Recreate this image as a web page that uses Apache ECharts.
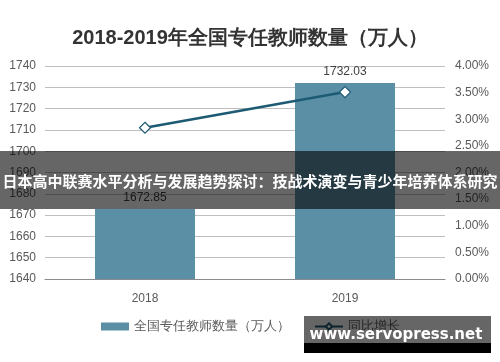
<!DOCTYPE html>
<html><head><meta charset="utf-8">
<script src="https://cdn.jsdelivr.net/npm/echarts@6/dist/echarts.min.js"></script>
<style>html,body{margin:0;padding:0;background:#fff}#c{width:500px;height:362px}</style>
</head><body><div id="c"></div>
<script>
const categories = ['2018', '2019'];
const teacherCounts = [1672.85, 1732.03];
const growthRates = [2.84, 3.51];
const leftTicks = {min: 1640, max: 1740, interval: 10};
const rightTicks = {min: 0, max: 4, interval: 0.5};
const titleText = '2018-2019年全国专任教师数量（万人）';
const barName = '全国专任教师数量（万人）';
const lineName = '同比增长';
const bannerText = '日本高中联赛水平分析与发展趋势探讨：技战术演变与青少年培养体系研究';
const watermarkText = 'www.servopress.net';

const font = 'Liberation Sans, Arial, sans-serif';
const chart = echarts.init(document.getElementById('c'), null, {renderer: 'canvas'});
chart.setOption({
  animation: false,
  backgroundColor: '#fff',
  title: {text: titleText, left: 'center', top: 23,
    textStyle: {fontSize: 20, fontWeight: 'bold', color: '#333', fontFamily: font}},
  grid: {left: 45, right: 55, top: 66, bottom: 83},
  legend: {bottom: 24, left: 96, itemGap: 24, itemWidth: 28, itemHeight: 8,
    textStyle: {fontSize: 13, color: '#595959', fontFamily: font},
    data: [{name: barName, icon: 'rect'}, {name: lineName}]},
  xAxis: {type: 'category', data: categories,
    axisLine: {lineStyle: {color: '#8c8c8c'}}, axisTick: {show: false},
    axisLabel: {fontSize: 12, color: '#595959', margin: 14, fontFamily: font}},
  yAxis: [
    {type: 'value', min: leftTicks.min, max: leftTicks.max, interval: leftTicks.interval,
      axisLine: {show: false}, axisTick: {show: false},
      axisLabel: {fontSize: 12, color: '#595959', margin: 9, fontFamily: font,
        formatter: v => String(v)},
      splitLine: {lineStyle: {color: '#bfbfbf', width: 1}}},
    {type: 'value', min: rightTicks.min, max: rightTicks.max, interval: rightTicks.interval,
      axisLine: {show: false}, axisTick: {show: false},
      axisLabel: {fontSize: 12, color: '#595959', margin: 10, fontFamily: font,
        formatter: v => v.toFixed(2) + '%'},
      splitLine: {show: false}}
  ],
  series: [
    {name: barName, type: 'bar', data: teacherCounts, barWidth: '50%', yAxisIndex: 0,
      itemStyle: {color: '#5b8fa6'},
      label: {show: true, position: 'top', fontSize: 12, color: '#404040', fontFamily: font,
        formatter: p => p.value.toFixed(2)}},
    {name: lineName, type: 'line', data: growthRates, yAxisIndex: 1,
      symbol: 'diamond', symbolSize: 11,
      lineStyle: {color: '#1d5a73', width: 2.5},
      itemStyle: {color: '#fff', borderColor: '#1d5a73', borderWidth: 1.2}}
  ],
  graphic: [
    {type: 'rect', z: 100, shape: {x: 0, y: 151, width: 500, height: 58},
      style: {fill: 'rgba(0,0,0,0.6)'}},
    {type: 'text', z: 101, x: 250, y: 181,
      style: {text: bannerText, fill: '#fff', font: 'bold 15px "Noto Sans CJK SC", sans-serif',
        textAlign: 'center', textVerticalAlign: 'middle'}},
    {type: 'rect', z: 100, shape: {x: 304, y: 316, width: 187, height: 27},
      style: {fill: 'rgba(0,0,0,0.6)'}},
    {type: 'rect', z: 100, shape: {x: 304, y: 343, width: 187, height: 10},
      style: {fill: '#000'}},
    {type: 'text', z: 101, x: 396, y: 335,
      style: {text: watermarkText, fill: '#fff', font: 'bold 15px "DejaVu Sans", sans-serif',
        textAlign: 'center', textVerticalAlign: 'middle'}}
  ]
});
</script></body></html>
